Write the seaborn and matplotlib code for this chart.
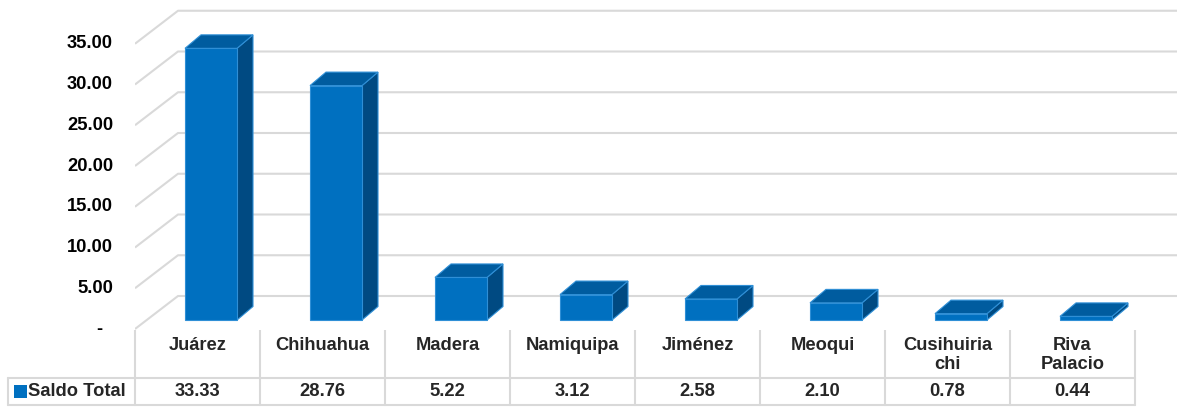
import matplotlib
matplotlib.use('Agg')
import matplotlib.pyplot as plt
from matplotlib.patches import Polygon, Rectangle
import seaborn as sns
import pandas as pd

# Data
categories = ['Juárez', 'Chihuahua', 'Madera', 'Namiquipa', 'Jiménez',
              'Meoqui', 'Cusihuiria\nchi', 'Riva\nPalacio']
values = [33.33, 28.76, 5.22, 3.12, 2.58, 2.10, 0.78, 0.44]
series_name = 'Saldo Total'
yticks = [0, 5, 10, 15, 20, 25, 30, 35]

df = pd.DataFrame({'cat': categories, 'val': values})

sns.set_style('white')
plt.rcParams['font.family'] = ['Liberation Sans', 'DejaVu Sans']

W, H = 1177, 408
fig = plt.figure(figsize=(W / 100, H / 100), dpi=100)

FRONT = '#0070C0'
TOP = '#005C9F'
SIDE = '#004A82'
EDGE = '#2F8FD6'
GRID = '#D9D9D9'
FS = 13.2

# geometry in pixels
px_per_cat = 125.0
px_per_unit = 8.15
bar_x0 = 211.0          # pixel centre of first bar front face
base_px = 320.0         # pixel row of bar base
ax_top, ax_bot = 0.0, 330.0
ax_left, ax_right = 135.0, 1177.0

ax = fig.add_axes([ax_left / W, (H - ax_bot) / H, (ax_right - ax_left) / W, (ax_bot - ax_top) / H])
xlim = ((ax_left - bar_x0) / px_per_cat, (ax_right - bar_x0) / px_per_cat)
ylim = (-(ax_bot - base_px) / px_per_unit, (base_px - ax_top) / px_per_unit)

cx = 1 / px_per_cat
cy = 1 / px_per_unit

# walls: diagonal + back gridlines
x_front = xlim[0]
x_back = x_front + 43 * cx
for v in yticks:
    yf = v - 9 * cy
    yb = v + 24 * cy
    ax.plot([x_front, x_back, xlim[1]], [yf, yb, yb], color=GRID, lw=1.5, zorder=1,
            solid_capstyle='butt')
    lab = f'{v:.2f}' if v else '-  '
    ax.text(x_front - 22 * cx, yf, lab, ha='right', va='center', fontsize=FS,
            fontweight='bold', color='black', clip_on=False)

# front faces
bw = 52 * cx
sns.barplot(data=df, x='cat', y='val', color=FRONT, width=bw, saturation=1,
            edgecolor=EDGE, linewidth=0.8, ax=ax, zorder=3)
ax.set_xlim(*xlim)
ax.set_ylim(*ylim)
ax.axis('off')

dx = 16 * cx
dy = 13.5 * cy
for i, v in enumerate(values):
    xl, xr = i - bw / 2, i + bw / 2
    side = Polygon([(xr, 0), (xr + dx, dy), (xr + dx, v + dy), (xr, v)], closed=True,
                   facecolor=SIDE, edgecolor=EDGE, lw=0.8, zorder=2.5)
    top = Polygon([(xl, v), (xr, v), (xr + dx, v + dy), (xl + dx, v + dy)], closed=True,
                  facecolor=TOP, edgecolor=EDGE, lw=0.8, zorder=2.5)
    ax.add_patch(side)
    ax.add_patch(top)

# data table
tab = fig.add_axes([0, 0, 1, (H - ax_bot) / H])
col0 = 197.5
tab.set_xlim(-col0 / px_per_cat, (W - col0) / px_per_cat)
tab.set_ylim(H, ax_bot)
tab.axis('off')
n = len(categories)
row_mid = 378
row_bot = 405
left_edge = -col0 / px_per_cat + 8 * cx
for k in range(n + 1):
    tab.plot([k - 0.5, k - 0.5], [ax_bot, row_bot], color=GRID, lw=1.5)
tab.plot([left_edge, left_edge], [row_mid, row_bot], color=GRID, lw=1.5)
for yy in (row_mid, row_bot):
    tab.plot([left_edge, n - 0.5], [yy, yy], color=GRID, lw=1.5)
for k, (c, v) in enumerate(zip(categories, values)):
    tab.text(k, 337, c, ha='center', va='top', fontsize=FS, fontweight='bold',
             linespacing=1.15)
    tab.text(k, 392, f'{v:.2f}', ha='center', va='center', fontsize=FS, fontweight='bold')
tab.add_patch(Rectangle((left_edge + 6 * cx, 385), 13 * cx, 13, facecolor=FRONT, edgecolor='none'))
tab.text(left_edge + 20 * cx, 392, series_name, ha='left', va='center', fontsize=FS,
         fontweight='bold')

fig.savefig('out.png', dpi=100)
